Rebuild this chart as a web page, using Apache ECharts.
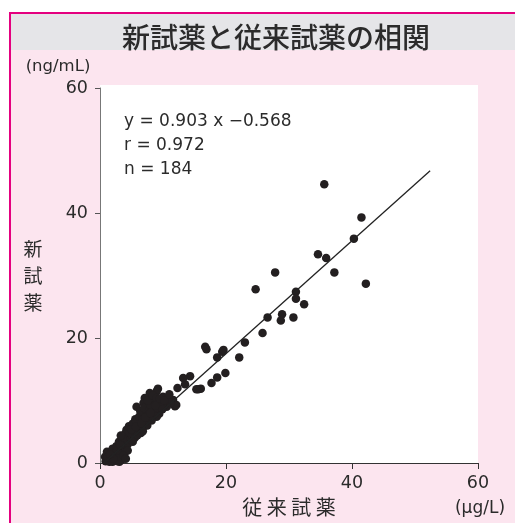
<!DOCTYPE html>
<html>
<head>
<meta charset="utf-8">
<script src="https://cdn.jsdelivr.net/npm/echarts@6/dist/echarts.min.js"></script>
<style>
html,body{margin:0;padding:0;background:#fff;}
#main{width:515px;height:523px;}
</style>
</head>
<body>
<div id="main"></div>
<script>
// ---- data ----
const chartTitle = '新試薬と従来試薬の相関';
const xAxisName = '従 来 試 薬';
const yAxisName = '新\n試\n薬';
const xUnit = '(μg/L)';
const yUnit = '(ng/mL)';
const xTicks = [0, 20, 40, 60];
const yTicks = [0, 20, 40, 60];
const statLines = ['y = 0.903 x −0.568', 'r = 0.972', 'n = 184'];
const fitSlope = 0.903;
const fitIntercept = -0.568;
const fitXRange = [0.63, 52.4];

const upperPoints = [
  [35.6,44.6],[41.5,39.3],[40.3,35.9],[34.6,33.4],[35.9,32.8],[37.2,30.5],[42.2,28.7],
  [27.8,30.5],[24.7,27.8],[31.1,27.4],[31.1,26.3],[32.4,25.4],[26.6,23.3],[28.9,23.8],
  [28.7,22.8],[30.7,23.3],[25.8,20.8],[23.0,19.3],[16.7,18.6],[16.9,18.2],[18.6,16.9],
  [19.4,17.8],[19.6,18.1],[22.1,16.9]
];
const middlePoints = [
  [19.9,14.4],[18.6,13.7],[17.7,12.8],[16.0,11.9],[15.6,11.8],[15.3,11.8],[14.3,13.9],
  [13.2,13.6],[13.5,12.6],[12.3,12.0],[9.2,11.9],[9.0,11.5],[7.9,11.2],[8.2,10.1],
  [7.1,10.4],[6.9,9.6],[5.8,9.0],[8.5,9.6],[9.8,9.8],[10.5,9.8],[10.3,9.8],[11.6,10.1],
  [11.9,9.1],[12.1,9.3],[10.6,9.0],[9.6,9.0],[9.4,7.9],[8.7,8.5],[8.5,7.7],[7.7,6.9],
  [7.1,6.4],[6.9,5.8],[6.3,5.3],[5.3,5.8],[5.8,5.3],[4.2,5.3],[4.0,4.7],[4.5,4.2],
  [4.8,3.7],[3.7,2.9],[3.2,2.4],[2.9,1.8],[2.6,1.3],[2.4,0.8],[1.1,1.8],[0.8,1.0],
  [1.3,0.8],[1.9,0.5],[2.6,0.5],[3.4,0.5]
];
const clusterPoints = [
  [0.9,0.3],[1.5,0.2],[2.0,0.2],[2.8,0.3],[3.1,0.2],[3.6,0.9],[1.8,1.2],[2.2,1.5],
  [3.0,1.0],[3.9,1.6],[2.0,2.3],[2.6,2.7],[3.4,2.1],[4.1,2.4],[3.0,3.4],[3.6,3.8],
  [4.4,3.0],[3.3,4.4],[4.7,4.9],[5.1,4.4],[5.5,4.0],[4.6,5.9],[5.2,6.3],[6.0,6.0],
  [6.5,4.8],[5.6,7.0],[6.2,7.4],[6.8,7.0],[7.4,7.8],[6.4,8.3],[7.0,8.8],[7.8,8.4],
  [8.0,9.3],[7.6,10.0],[8.4,10.8],[9.0,10.4],[10.0,10.6],[10.8,10.5],[11.2,9.6],
  [9.9,8.6],[9.0,7.4],[8.2,6.8],[7.5,6.0],[6.8,5.1],[5.9,4.4],[5.2,3.4],[4.4,2.0],
  [3.7,1.2],[4.1,0.7],[1.2,0.9],[2.1,0.7],[2.7,2.0],[3.2,2.9],[1.6,1.4],[5.0,5.4],
  [5.7,5.8],[6.6,6.4],[7.2,7.3],[8.0,8.0],[8.8,9.2],[9.5,10.3],[10.2,10.0],[11.0,11.0]
];

// ---- chart ----
const FONT = '"Noto Sans CJK JP", "Noto Sans", sans-serif';
const NUMFONT = '"DejaVu Sans", "Noto Sans CJK JP", sans-serif';
const fitLine = fitXRange.map(x => [x, fitSlope * x + fitIntercept]);
const allPoints = upperPoints.concat(middlePoints, clusterPoints);

const chart = echarts.init(document.getElementById('main'), null, {renderer: 'canvas'});
const option = {
  animation: false,
  backgroundColor: '#ffffff',
  textStyle: {fontFamily: FONT},
  title: {
    text: chartTitle,
    left: 271, top: 32, textAlign: 'center', textVerticalAlign: 'middle',
    textStyle: {fontSize: 28, fontWeight: 500, color: '#2b2b2b', fontFamily: FONT}
  },
  graphic: [
    {type: 'rect', z: -10, shape: {x: 10, y: 13, width: 520, height: 520},
     style: {fill: '#fce5ef', stroke: '#e4007f', lineWidth: 2}},
    {type: 'rect', z: -9, shape: {x: 11, y: 14, width: 510, height: 36},
     style: {fill: '#e5e5e8'}},
    {type: 'rect', z: -8, shape: {x: 100, y: 85, width: 378, height: 378},
     style: {fill: '#ffffff'}},
    {type: 'text', x: 58, y: 67,
     style: {text: yUnit, fontSize: 16.5, fill: '#2b2b2b', align: 'center', verticalAlign: 'middle', fontFamily: NUMFONT}},
    {type: 'text', x: 480, y: 509,
     style: {text: xUnit, fontSize: 17, fill: '#2b2b2b', align: 'center', verticalAlign: 'middle', fontFamily: NUMFONT}},
    {type: 'text', x: 33, y: 276,
     style: {text: yAxisName, fontSize: 19, lineHeight: 27, fill: '#2b2b2b', align: 'center', verticalAlign: 'middle', fontFamily: FONT}},
    {type: 'text', x: 124, y: 122,
     style: {text: statLines[0], fontSize: 17, fill: '#2b2b2b', align: 'left', verticalAlign: 'middle', fontFamily: NUMFONT}},
    {type: 'text', x: 124, y: 146,
     style: {text: statLines[1], fontSize: 17, fill: '#2b2b2b', align: 'left', verticalAlign: 'middle', fontFamily: NUMFONT}},
    {type: 'text', x: 124, y: 170,
     style: {text: statLines[2], fontSize: 17, fill: '#2b2b2b', align: 'left', verticalAlign: 'middle', fontFamily: NUMFONT}}
  ],
  grid: {left: 100, right: 37, top: 88, bottom: 60, containLabel: false, outerBoundsMode: 'none'},
  xAxis: {
    type: 'value', min: xTicks[0], max: xTicks[xTicks.length - 1], interval: 20,
    name: xAxisName, nameLocation: 'middle', nameGap: 34,
    nameTextStyle: {fontSize: 20, color: '#2b2b2b', fontFamily: FONT},
    axisLine: {show: true, onZero: false, lineStyle: {color: '#333', width: 1}},
    axisTick: {show: true, length: 6, lineStyle: {color: '#333'}},
    axisLabel: {fontSize: 17.5, color: '#2b2b2b', margin: 12, fontFamily: NUMFONT},
    splitLine: {show: false}
  },
  yAxis: {
    type: 'value', min: yTicks[0], max: yTicks[yTicks.length - 1], interval: 20,
    axisLine: {show: true, onZero: false, lineStyle: {color: '#777', width: 1}},
    axisTick: {show: true, length: 5, lineStyle: {color: '#555'}},
    axisLabel: {fontSize: 17.5, color: '#2b2b2b', margin: 12, fontFamily: NUMFONT},
    splitLine: {show: false}
  },
  series: [
    {
      type: 'scatter', data: allPoints, symbolSize: 8.5,
      itemStyle: {color: '#231f20', opacity: 1}, emphasis: {disabled: true}, z: 2
    },
    {
      type: 'line', data: fitLine, showSymbol: false, symbol: 'none',
      lineStyle: {color: '#222', width: 1.3}, z: 3, emphasis: {disabled: true}
    }
  ]
};
chart.setOption(option);
</script>
</body>
</html>
